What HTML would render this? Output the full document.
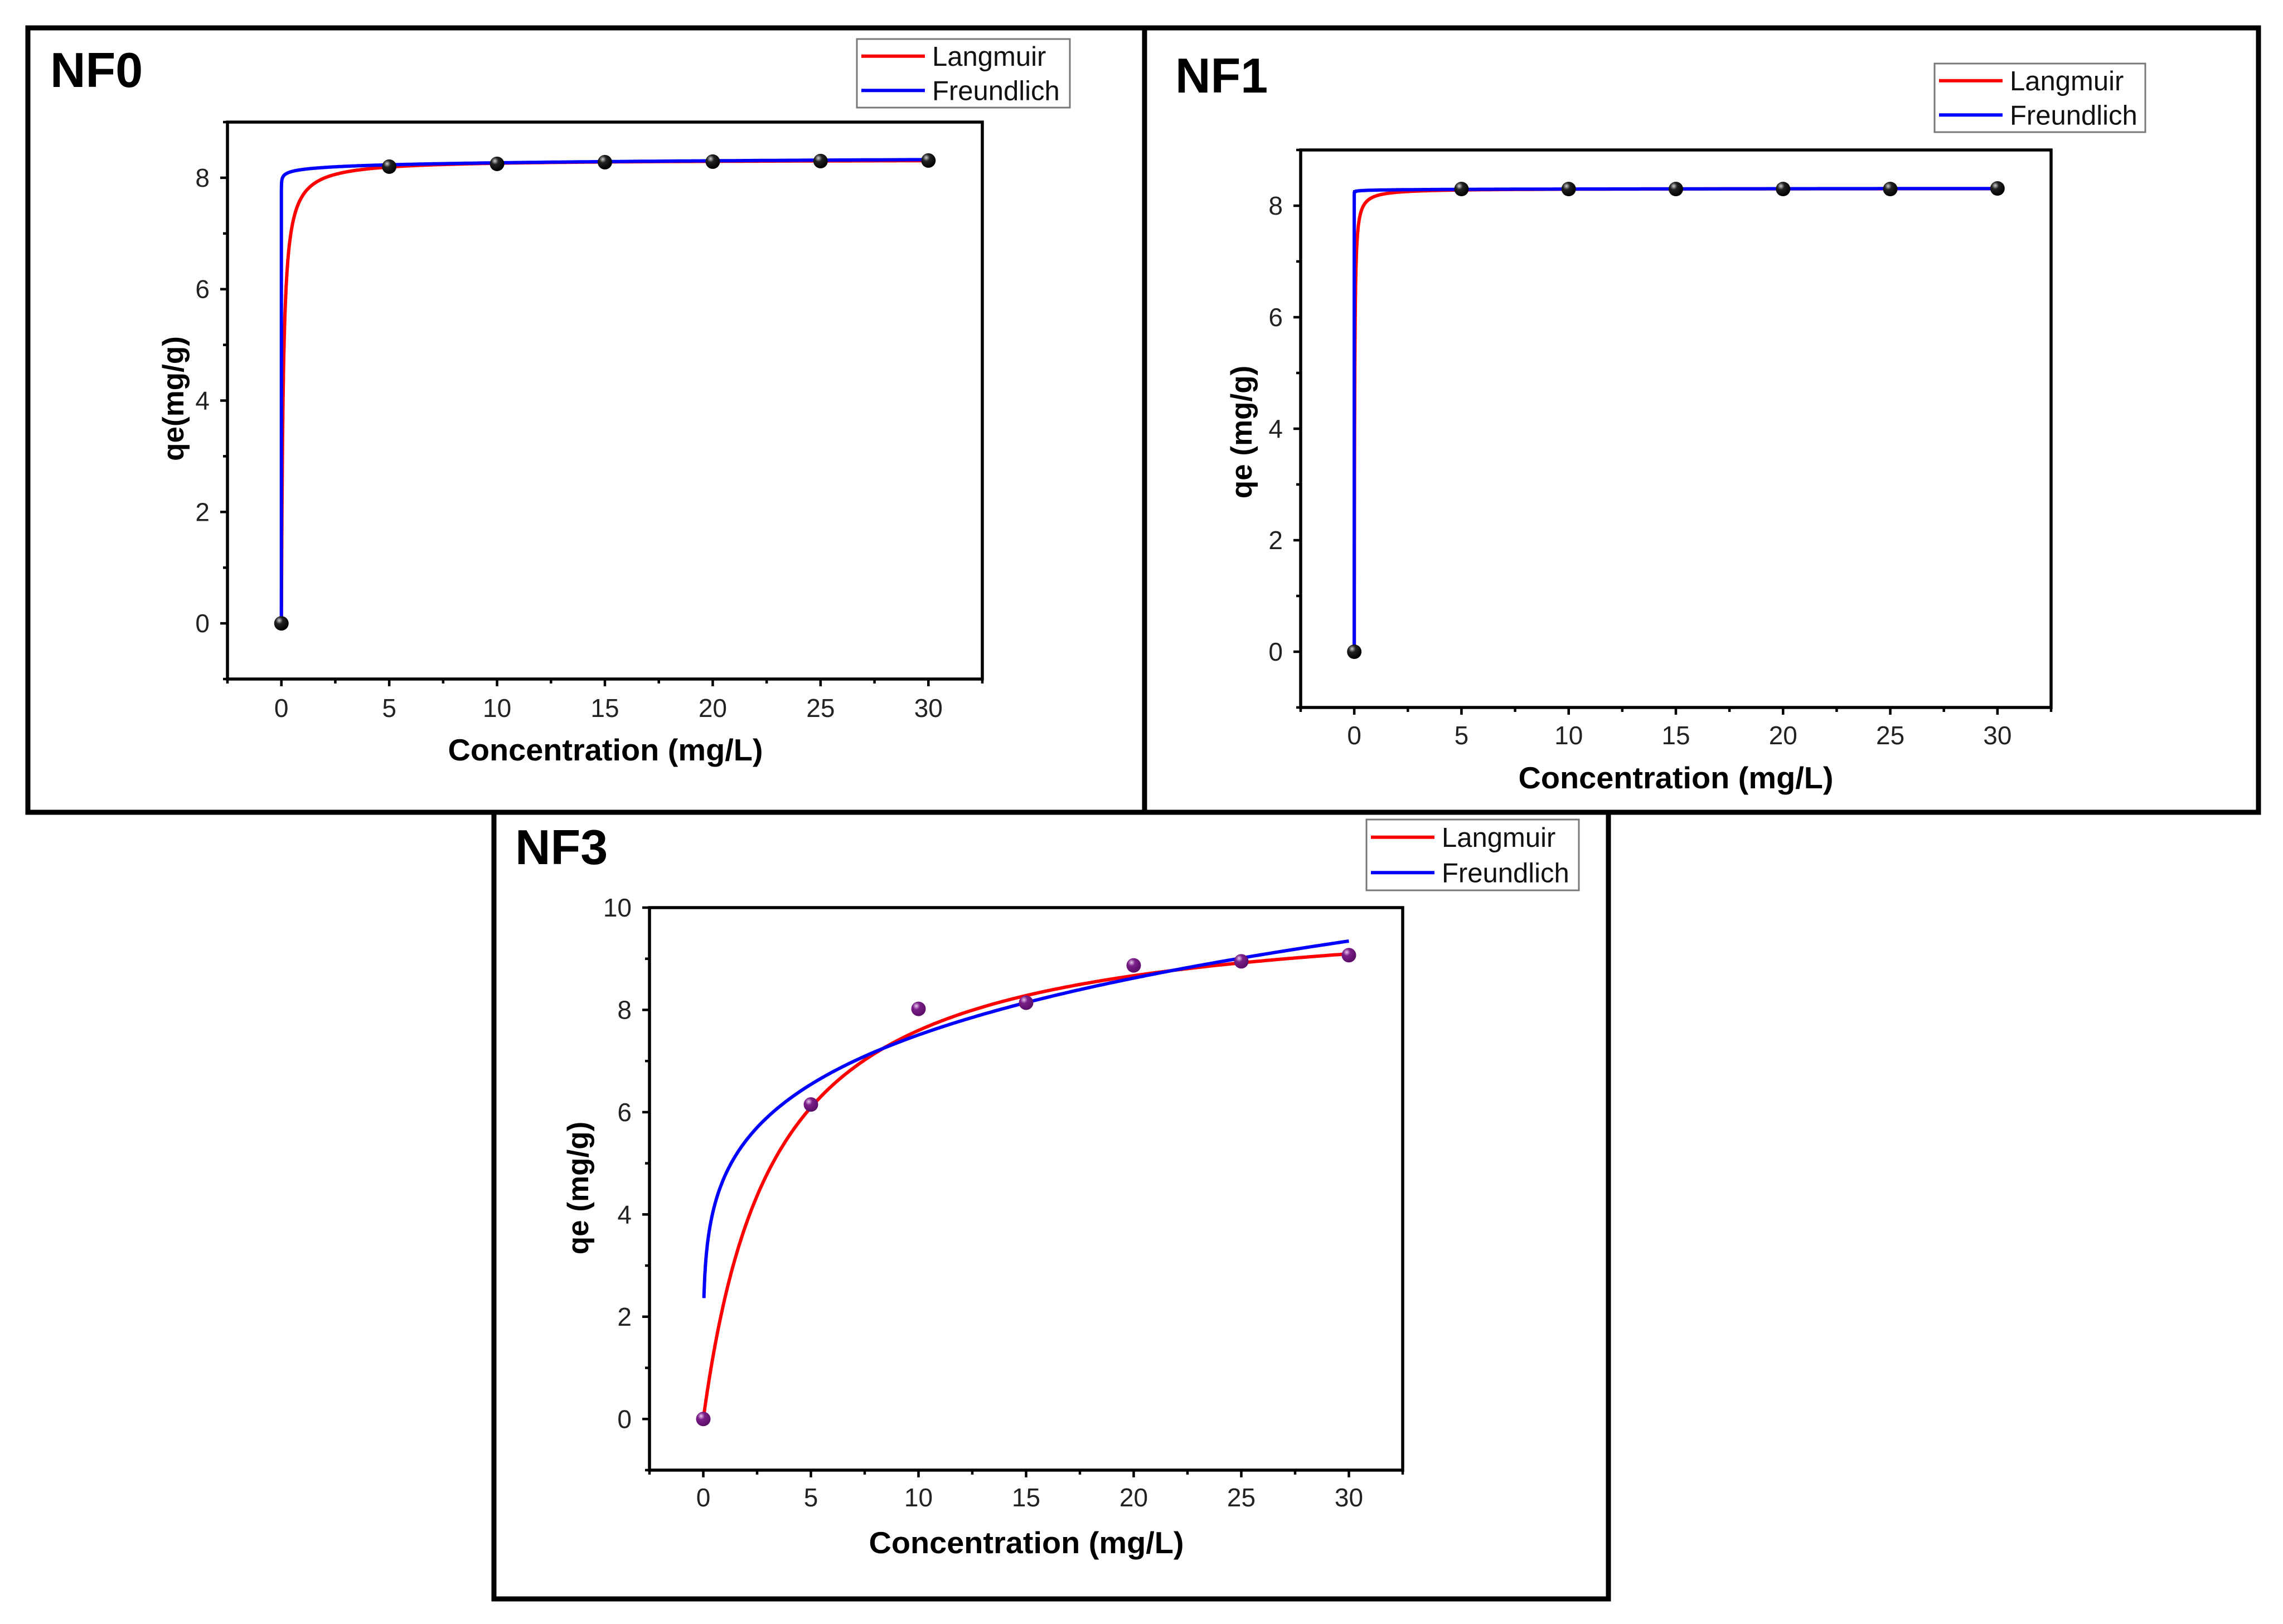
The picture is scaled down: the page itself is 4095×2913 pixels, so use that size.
<!DOCTYPE html>
<html><head><meta charset="utf-8"><style>
html,body{margin:0;padding:0;background:#fff;}
svg{display:block;font-family:"Liberation Sans",Arial,sans-serif;}
</style></head><body>
<svg id="fig" width="4095" height="2913" viewBox="0 0 4095 2913" xmlns="http://www.w3.org/2000/svg">
<defs>
<radialGradient id="gBlack" cx="0.35" cy="0.3" r="0.7"><stop offset="0" stop-color="#cfcfcf"/><stop offset="0.35" stop-color="#222"/><stop offset="1" stop-color="#000"/></radialGradient>
<radialGradient id="gPurple" cx="0.35" cy="0.3" r="0.7"><stop offset="0" stop-color="#e8c8ee"/><stop offset="0.35" stop-color="#7a1f88"/><stop offset="1" stop-color="#5a0f68"/></radialGradient>
</defs>
</svg>
<script>
// ---- data ----
const concNF0 = [0, 5, 10, 15, 20, 25, 30];
const qeNF0 = [0, 8.20, 8.25, 8.28, 8.29, 8.30, 8.31];
const langNF0 = [8.33, 12];      // qmax, KL
const freuNF0 = [8.15, 0.0063];  // KF, 1/n
const concNF1 = [0, 5, 10, 15, 20, 25, 30];
const qeNF1 = [0, 8.30, 8.30, 8.30, 8.30, 8.30, 8.31];
const langNF1 = [8.31, 60];
const freuNF1 = [8.28, 0.001];
const concNF3 = [0, 5, 10, 15, 20, 25, 30];
const qeNF3 = [0, 6.15, 8.02, 8.14, 8.87, 8.95, 9.07];
const langNF3 = [10.09, 0.305];
const freuNF3 = [4.75, 0.199];
const xTicks = [0, 5, 10, 15, 20, 25, 30];
const yTicksA = [0, 2, 4, 6, 8];
const yTicksB = [0, 2, 4, 6, 8, 10];
const legendLabels = ["Langmuir", "Freundlich"];

const NS = "http://www.w3.org/2000/svg";
const svg = document.getElementById("fig");
function mk(tag, attrs, parent) {
  const e = document.createElementNS(NS, tag);
  for (const k in attrs) e.setAttribute(k, attrs[k]);
  (parent || svg).appendChild(e);
  return e;
}

function panel(c) {
  const g = mk("g", {});
  
  
  const fr = mk("rect", {x: c.box[0], y: c.box[1], width: c.box[2]-c.box[0], height: c.box[3]-c.box[1], fill: "none", stroke: "#000", "stroke-width": 9}, g);
  
  
  const t = mk("text", {x: c.title[0], y: c.title[1], "font-size": 88, "font-weight": "bold"}, g);
  t.textContent = c.id;
  
  

  const [L, T, R, B] = c.plot;
  const sx = v => L + (v - c.xlim[0]) / (c.xlim[1] - c.xlim[0]) * (R - L);
  const sy = v => B - (v - c.ylim[0]) / (c.ylim[1] - c.ylim[0]) * (B - T);

  const cp = mk("clipPath", {id: "clip" + c.id}, g);
  mk("rect", {x: L, y: T, width: R - L, height: B - T}, cp);

  const ax = mk("g", {stroke: "#000", "stroke-width": 4.5}, g);
  
  
  for (let v = c.xlim[0]; v <= c.xlim[1] + 0.01; v += 2.5) {
    const major = xTicks.indexOf(Math.round(v * 10) / 10) >= 0;
    mk("line", {x1: sx(v), y1: B, x2: sx(v), y2: B + (major ? 13 : 8)}, ax);
  }
  xTicks.forEach(v => {
    const tx = mk("text", {x: sx(v), y: c.xLabY + 2, "font-size": 46, "text-anchor": "middle", stroke: "none", fill: "#222"}, ax);
    tx.textContent = v;
    
    
  });
  const ay = mk("g", {stroke: "#000", "stroke-width": 4.5}, g);
  
  
  for (let v = c.ylim[0]; v <= c.ylim[1] + 0.01; v += 1) {
    const major = c.yTicks.indexOf(v) >= 0;
    mk("line", {x1: L, y1: sy(v), x2: L - (major ? 13 : 8), y2: sy(v)}, ay);
  }
  c.yTicks.forEach(v => {
    const ty = mk("text", {x: L - 32, y: sy(v) + 16, "font-size": 46, "text-anchor": "end", stroke: "none", fill: "#222"}, ay);
    ty.textContent = v;
    
    
  });
  const pr = mk("rect", {x: L, y: T, width: R - L, height: B - T, fill: "none", stroke: "#000", "stroke-width": 5.5}, g);
  
  

  const xt = mk("text", {x: c.xTitle[0], y: c.xTitle[1], "font-size": 55, "font-weight": "bold", "text-anchor": "middle", textLength: 565, lengthAdjust: "spacingAndGlyphs"}, g);
  xt.textContent = "Concentration (mg/L)";
  
  
  const yt = mk("text", {x: 0, y: 0, "font-size": 53, "font-weight": "bold", "text-anchor": "middle", transform: `translate(${c.yTitle[0] + 18},${c.yTitle[1]}) rotate(-90)`}, g);
  yt.textContent = c.yTitleText;
  
  

  const cs = [];
  for (let i = 0; i <= 400; i++) { const u = i / 400; cs.push(30 * u * u * u); }
  let dL = "", dF = "";
  cs.forEach((C, i) => {
    const ql = c.lang[0] * c.lang[1] * C / (1 + c.lang[1] * C);
    dL += (i ? "L" : "M") + sx(C).toFixed(1) + "," + sy(ql).toFixed(1);
  });
  let first = true;
  cs.forEach(C => {
    if (C < c.fStart) return;
    const qf = C === 0 ? 0 : c.freu[0] * Math.pow(C, c.freu[1]);
    dF += (first ? "M" : "L") + sx(C).toFixed(1) + "," + sy(qf).toFixed(1);
    first = false;
  });
  const pl = mk("path", {d: dL, fill: "none", stroke: "#ff0000", "stroke-width": 6, "clip-path": `url(#clip${c.id})`}, g);
  
  
  const pf = mk("path", {d: dF, fill: "none", stroke: "#0000ff", "stroke-width": 6, "clip-path": `url(#clip${c.id})`}, g);
  
  

  c.conc.forEach((C, i) => {
    const p = mk("circle", {cx: sx(C), cy: sy(c.qe[i]), r: 13, fill: c.pointFill}, g);
    
    
  });

  const [lx1, ly1, lx2, ly2] = c.legend;
  const lg = mk("g", {}, g);
  
  
  mk("rect", {x: lx1, y: ly1, width: lx2 - lx1, height: ly2 - ly1, fill: "#fff", stroke: "#777", "stroke-width": 3}, lg);
  const rowH = (ly2 - ly1) / 2;
  legendLabels.forEach((lab, i) => {
    const cy = ly1 + rowH * (i + 0.5);
    const e = mk("g", {}, lg);
    
    
    mk("line", {x1: lx1 + 8, y1: cy, x2: lx1 + 122, y2: cy, stroke: i ? "#0000ff" : "#ff0000", "stroke-width": 6}, e);
    const tx = mk("text", {x: lx1 + 135, y: cy + 17, "font-size": 49, fill: "#111"}, e);
    tx.textContent = lab;
  });
}

panel({id: "NF0", box: [50, 50, 2053, 1457], title: [90, 156], plot: [408, 219, 1762, 1218],
  xlim: [-2.5, 32.5], ylim: [-1, 9], yTicks: yTicksA, xLabY: 1284, xTitle: [1086, 1364],
  yTitle: [311, 715], yTitleText: "qe(mg/g)", conc: concNF0, qe: qeNF0, lang: langNF0, freu: freuNF0,
  fStart: 0, pointFill: "url(#gBlack)", legend: [1537, 70, 1919, 193]});
panel({id: "NF1", box: [2053, 50, 4051, 1457], title: [2108, 166], plot: [2333, 269, 3679, 1269],
  xlim: [-2.5, 32.5], ylim: [-1, 9], yTicks: yTicksA, xLabY: 1333, xTitle: [3006, 1414],
  yTitle: [2227, 775], yTitleText: "qe (mg/g)", conc: concNF1, qe: qeNF1, lang: langNF1, freu: freuNF1,
  fStart: 0, pointFill: "url(#gBlack)", legend: [3470, 114, 3848, 237]});
panel({id: "NF3", box: [886, 1457, 2885, 2868], title: [924, 1550], plot: [1165, 1628, 2516, 2637],
  xlim: [-2.5, 32.5], ylim: [-1, 10], yTicks: yTicksB, xLabY: 2700, xTitle: [1841, 2786],
  yTitle: [1037, 2131], yTitleText: "qe (mg/g)", conc: concNF3, qe: qeNF3, lang: langNF3, freu: freuNF3,
  fStart: 0.03, pointFill: "url(#gPurple)", legend: [2451, 1470, 2832, 1597]});
</script>
</body></html>
